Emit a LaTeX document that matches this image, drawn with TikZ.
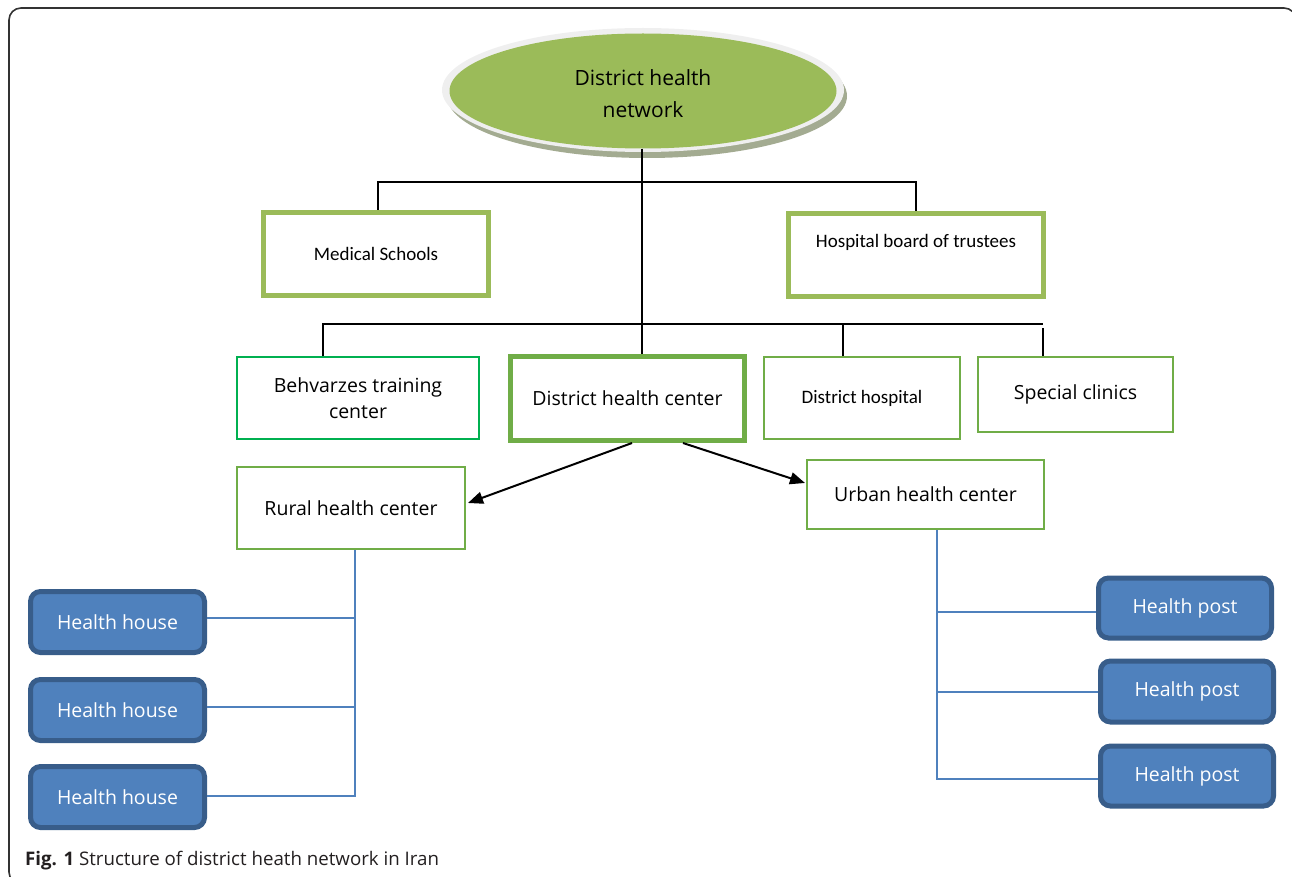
\documentclass[tikz,border=0pt]{standalone}
\usepackage{fontspec}
\setmainfont{Open Sans}
\newfontfamily\calfont{Carlito}
\usetikzlibrary{shapes.geometric,arrows.meta}
\definecolor{olivegreen}{HTML}{9BBB59}
\definecolor{midgreen}{HTML}{70AD47}
\definecolor{brightgreen}{HTML}{00B050}
\definecolor{hfill}{HTML}{4F81BD}
\definecolor{hborder}{HTML}{385D8A}
\definecolor{rimgray}{HTML}{EFEFEF}
\definecolor{shadowgray}{HTML}{A3AB91}
\definecolor{captext}{HTML}{231F20}
\begin{document}
\begin{tikzpicture}[x=1pt,y=-1pt,
  boxbase/.style={rectangle, inner sep=0pt, align=center, fill=white},
  thickolive/.style={boxbase, draw=olivegreen, line width=5pt, font=\calfont\fontsize{19}{24}\selectfont},
  thinbox/.style={boxbase, draw=midgreen, line width=2pt, font=\fontsize{19.5}{26}\selectfont},
  thinboxcal/.style={thinbox, font=\calfont\fontsize{19}{24}\selectfont},
  bluebox/.style={rectangle, rounded corners=10pt, fill=hfill, draw=hborder, line width=5pt, text=white, inner sep=0pt, minimum height=61pt, font=\fontsize{19.5}{24}\selectfont},
  tree/.style={black, line width=1.2pt},
  trunk/.style={black, line width=2pt},
  blueline/.style={hfill, line width=2pt},
  arr/.style={black, line width=2pt, -{Triangle[length=15pt,width=12pt]}}
]
\useasboundingbox (0,0) rectangle (1292,877);
% outer frame
\draw[line width=1.6pt, black!80, rounded corners=12pt] (9,8) rectangle (1296,884);

% top ellipse
\fill[shadowgray] (647,96) ellipse [x radius=200, y radius=62];
\fill[rimgray] (643,90) ellipse [x radius=201, y radius=62];
\node[ellipse, fill=olivegreen, minimum width=387pt, minimum height=115pt, inner sep=0pt, align=center, font=\fontsize{21}{32}\selectfont] (net) at (643,91) {\raisebox{-3pt}[\height][\depth]{District health}\\\raisebox{-3pt}[\height][\depth]{network}};

% second level
\node[thickolive, minimum width=225pt, minimum height=83pt] (ms) at (376,254) {Medical Schools};
\node[thickolive, minimum width=255pt, minimum height=83pt] (hb) at (916,255) {\raisebox{13pt}[\height][\depth]{Hospital board of trustees}};

% third level
\node[thinbox, draw=brightgreen, minimum width=242pt, minimum height=82pt] (bt) at (358,398) {Behvarzes training\\center};
\node[thinbox, line width=5pt, minimum width=234pt, minimum height=84pt] (dhc) at (627.5,398.5) {District health center};
\node[thinboxcal, minimum width=196pt, minimum height=82pt] (dh) at (862,398) {District hospital};
\node[thinbox, minimum width=195pt, minimum height=75pt] (sc) at (1075.5,394.5) {Special clinics};

% fourth level
\node[thinbox, minimum width=228pt, minimum height=82pt] (rural) at (351,508) {Rural health center};
\node[thinbox, minimum width=237pt, minimum height=69pt] (urban) at (925.5,494.5) {Urban health center};

% health houses and posts
\node[bluebox, minimum width=174pt] (hh1) at (117.5,622) {Health house};
\node[bluebox, minimum width=174pt] (hh2) at (117.5,710) {Health house};
\node[bluebox, minimum width=174pt] (hh3) at (117.5,797) {Health house};
\node[bluebox, minimum width=173pt, minimum height=60pt] (hp1) at (1185,608) {Health post};
\node[bluebox, minimum width=173pt, minimum height=61pt] (hp2) at (1187,691.5) {Health post};
\node[bluebox, minimum width=173pt, minimum height=60pt] (hp3) at (1187,776) {Health post};

% connectors: top tree
\coordinate (bar1) at (0,182);
\coordinate (bar2) at (0,324);
\draw[tree] ([xshift=2pt]ms.north) -- ([xshift=2pt]ms.north |- bar1) -- (hb.north |- bar1) -- (hb.north);
\draw[trunk] (net.south -| 642,0) -- ([xshift=14.5pt]dhc.north);
\draw[tree] ([xshift=-35pt]bt.north) -- ([xshift=-35pt]bt.north |- bar2) -- ([xshift=-32.5pt]sc.north |- bar2);
\draw[tree] ([xshift=-32.5pt]sc.north |- 0,328) -- ([xshift=-32.5pt]sc.north);
\draw[tree] ([xshift=-19pt]dh.north) -- ([xshift=-19pt]dh.north |- bar2);

% arrows
\draw[arr] ([xshift=4.5pt]dhc.south) -- ([yshift=5pt,xshift=2pt]rural.east);
\draw[arr] ([xshift=55.5pt]dhc.south) -- ([yshift=11.5pt,xshift=-1pt]urban.west);

% rural branches
\coordinate (rv) at ([xshift=4pt]rural.south);
\draw[blueline] (rv) -- (rv |- 0,796) -- ([yshift=1pt]hh3.east);
\draw[blueline] ([yshift=4pt]hh1.east) -- ([yshift=4pt]hh1.east -| rv);
\draw[blueline] ([yshift=3pt]hh2.east) -- ([yshift=3pt]hh2.east -| rv);

% urban branches
\coordinate (uv) at ([xshift=11.5pt]urban.south);
\draw[blueline] (uv) -- (uv |- 0,779) -- ([yshift=-3pt]hp3.west);
\draw[blueline] ([yshift=-4pt]hp1.west) -- ([yshift=-4pt]hp1.west -| uv);
\draw[blueline] ([yshift=-0.5pt]hp2.west) -- ([yshift=-0.5pt]hp2.west -| uv);

% caption
\node[anchor=base west, inner sep=0pt, text=captext, font=\fontsize{18.7}{22}\selectfont] (cap) at (25,865) {\textbf{Fig. 1} Structure of district heath network in Iran};
\end{tikzpicture}
\end{document}
